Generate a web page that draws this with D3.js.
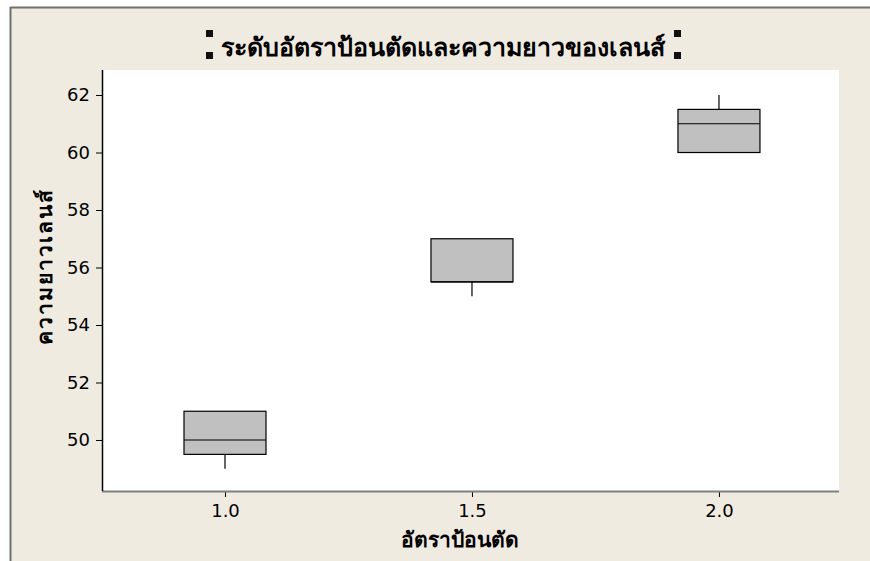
<!DOCTYPE html>
<html>
<head>
<meta charset="utf-8">
<script src="https://cdn.jsdelivr.net/npm/d3@7"></script>
<style>
  html, body { margin: 0; padding: 0; background: #ffffff; }
  svg { display: block; }
  text { font-family: "DejaVu Sans", "Noto Sans", sans-serif; }
</style>
</head>
<body>
<script>
// Cutting feed rate levels and lens length summary
const feedRates = [1.0, 1.5, 2.0];
const whiskerLow = [49, 55, 60];
const q1 = [49.5, 55.5, 60];
const median = [50, 55.5, 61];
const q3 = [51, 57, 61.5];
const whiskerHigh = [51, 57, 62];
const yTicks = [50, 52, 54, 56, 58, 60, 62];
const xTicks = [1.0, 1.5, 2.0];

const W = 870, H = 561;
const plot = { left: 102, right: 839, top: 70, bottom: 491 };

const svg = d3.select("body").append("svg").attr("width", W).attr("height", H);

// Outer panel
svg.append("rect").attr("x", 0).attr("y", 0).attr("width", W).attr("height", H).attr("fill", "#ffffff");
svg.append("rect").attr("x", 10).attr("y", 7).attr("width", W - 10).attr("height", H - 7).attr("fill", "#f0ebe1");
svg.append("line").attr("x1", 10).attr("x2", W).attr("y1", 7.5).attr("y2", 7.5).attr("stroke", "#707070").attr("stroke-width", 2);
svg.append("line").attr("x1", 10.5).attr("x2", 10.5).attr("y1", 7).attr("y2", H).attr("stroke", "#707070").attr("stroke-width", 2);

// Data region
svg.append("rect").attr("x", plot.left).attr("y", plot.top)
  .attr("width", plot.right - plot.left).attr("height", plot.bottom - plot.top).attr("fill", "#ffffff");

const x = d3.scaleLinear().domain([0.751, 2.243]).range([plot.left, plot.right]);
const y = d3.scaleLinear().domain([48.226, 62.87]).range([plot.bottom, plot.top]);

// Axes
const yAxis = d3.axisLeft(y).tickValues(yTicks).tickSize(6).tickPadding(6).tickFormat(d3.format("d"));
const gy = svg.append("g").attr("transform", `translate(${plot.left},0)`).call(yAxis);
gy.select(".domain").remove();
gy.selectAll("line").attr("stroke", "#000");
gy.selectAll("text").attr("font-size", 18).attr("fill", "#000");

const xAxis = d3.axisBottom(x).tickValues(xTicks).tickSize(6).tickPadding(7).tickFormat(d3.format(".1f"));
const gx = svg.append("g").attr("transform", `translate(0,${plot.bottom})`).call(xAxis);
gx.select(".domain").remove();
gx.selectAll("line").attr("stroke", "#000");
gx.selectAll("text").attr("font-size", 18).attr("fill", "#000");

svg.append("line").attr("x1", plot.left).attr("x2", plot.right).attr("y1", plot.bottom + 0.5).attr("y2", plot.bottom + 0.5)
  .attr("stroke", "#808080").attr("stroke-width", 2);
svg.append("line").attr("x1", plot.left + 0.5).attr("x2", plot.left + 0.5).attr("y1", plot.top).attr("y2", plot.bottom)
  .attr("stroke", "#000").attr("stroke-width", 1.5);

// Boxes
const halfW = 0.083;
const boxes = feedRates.map((r, i) => ({ r, lo: whiskerLow[i], q1: q1[i], med: median[i], q3: q3[i], hi: whiskerHigh[i] }));
const g = svg.append("g");
boxes.forEach(b => {
  if (b.lo < b.q1) g.append("line").attr("x1", x(b.r)).attr("x2", x(b.r)).attr("y1", y(b.q1)).attr("y2", y(b.lo)).attr("stroke", "#000").attr("stroke-width", 1.2);
  if (b.hi > b.q3) g.append("line").attr("x1", x(b.r)).attr("x2", x(b.r)).attr("y1", y(b.q3)).attr("y2", y(b.hi)).attr("stroke", "#000").attr("stroke-width", 1.2);
  g.append("rect").attr("x", x(b.r - halfW)).attr("y", y(b.q3))
    .attr("width", x(b.r + halfW) - x(b.r - halfW)).attr("height", y(b.q1) - y(b.q3))
    .attr("fill", "#c0c0c0").attr("stroke", "#000").attr("stroke-width", 1.2);
  g.append("line").attr("x1", x(b.r - halfW)).attr("x2", x(b.r + halfW)).attr("y1", y(b.med)).attr("y2", y(b.med))
    .attr("stroke", "#000").attr("stroke-width", 1.2);
});

// Title with selection handles
svg.append("text").attr("x", 443).attr("y", 56).attr("text-anchor", "middle")
  .attr("font-size", 25).attr("font-weight", "bold").attr("fill", "#000")
  .text("ระดับอัตราป้อนตัดและความยาวของเลนส์");
[[206, 30], [206, 52], [674, 30], [674, 52]].forEach(([hx, hy]) => {
  svg.append("rect").attr("x", hx).attr("y", hy).attr("width", 7).attr("height", 7).attr("fill", "#111");
});

// Axis titles
svg.append("text").attr("x", 460).attr("y", 547).attr("text-anchor", "middle")
  .attr("font-size", 21).attr("font-weight", "bold").attr("fill", "#000").text("อัตราป้อนตัด");
svg.append("text").attr("transform", "translate(52,266) rotate(-90)").attr("text-anchor", "middle")
  .attr("font-size", 21).attr("font-weight", "bold").attr("letter-spacing", 2).attr("fill", "#000").text("ความยาวเลนส์");
</script>
</body>
</html>
